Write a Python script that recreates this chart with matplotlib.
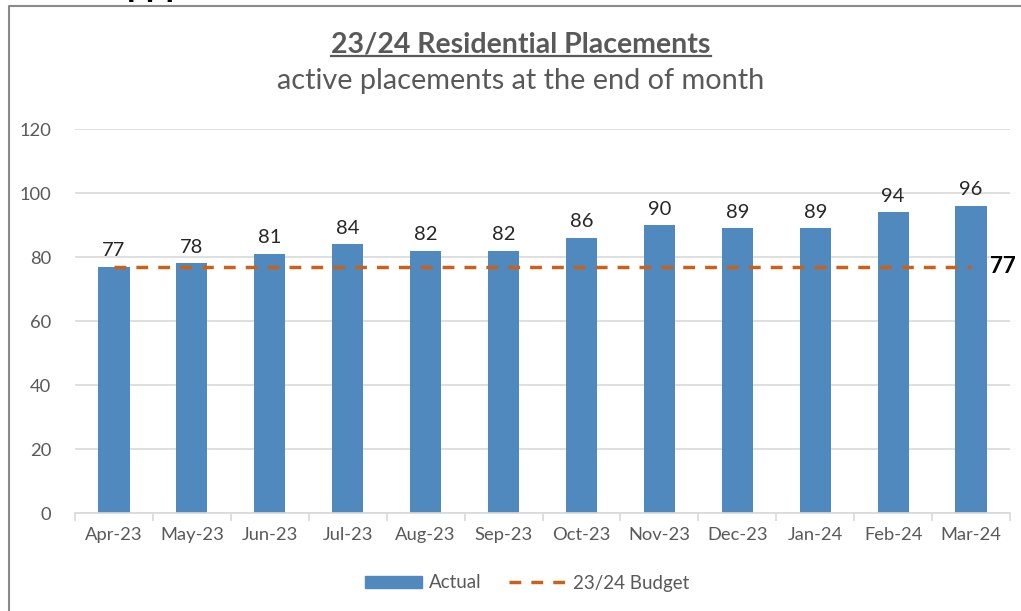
import numpy as np
import matplotlib.pyplot as plt
from matplotlib.lines import Line2D
from matplotlib.patches import Patch

plt.rcParams['font.family'] = ['Lato', 'DejaVu Sans']

months = ['Apr-23', 'May-23', 'Jun-23', 'Jul-23', 'Aug-23', 'Sep-23',
          'Oct-23', 'Nov-23', 'Dec-23', 'Jan-24', 'Feb-24', 'Mar-24']
actual = [77, 78, 81, 84, 82, 82, 86, 90, 89, 89, 94, 96]
budget = [77] * 12

bar_color = '#4F89BE'
budget_color = '#C9611A'
grey = '#595959'
dash = (0, (3.4, 2.9))

fig = plt.figure(figsize=(10.21, 6.11), dpi=100)
ax = fig.add_axes([75 / 1021, 98 / 611, 935 / 1021, 384 / 611])

x = np.arange(len(months))
ax.bar(x, actual, width=0.4, color=bar_color, zorder=2)
ax.plot(x, budget, color=budget_color, lw=2.5, ls=dash, zorder=3)

for xi, v in zip(x, actual):
    ax.text(xi, v + 2.3, str(v), ha='center', va='bottom', fontsize=14.5, color='#262626')
ax.text(x[-1] + 0.24, budget[-1], str(budget[-1]), ha='left', va='center',
        fontsize=16, fontweight='bold', color='black')

ax.set_xlim(-0.5, len(months) - 0.5)
ax.set_ylim(0, 120)
ax.set_yticks(np.arange(0, 121, 20))
ax.set_xticks(x)
ax.set_xticklabels(months)
ax.set_xticks(np.arange(-0.5, len(months), 1), minor=True)
ax.tick_params(axis='x', which='major', length=0, pad=10, labelsize=13.2, labelcolor=grey)
ax.tick_params(axis='x', which='minor', length=6, width=1.2, color='#d9d9d9')
ax.tick_params(axis='y', length=0, pad=17, labelsize=13.2, labelcolor=grey)
ax.grid(axis='y', color='#d9d9d9', lw=1.2, zorder=0)
for s in ['top', 'right', 'left']:
    ax.spines[s].set_visible(False)
ax.spines['bottom'].set_color('#d9d9d9')
ax.spines['bottom'].set_linewidth(1.2)

# titles
title = fig.text(521 / 1021, 1 - 45 / 611, '23/24 Residential Placements', ha='center', va='center',
                 fontsize=20.5, fontweight='bold', color=grey)
fig.text(521 / 1021, 1 - 81 / 611, 'active placements at the end of month', ha='center', va='center',
         fontsize=20.8, color=grey)

fig.canvas.draw()
bb = title.get_window_extent().transformed(fig.transFigure.inverted())
uy = bb.y0 + 2 / 611
fig.add_artist(Line2D([bb.x0, bb.x1], [uy, uy], color=grey, lw=1.6, transform=fig.transFigure))

# legend
handles = [Patch(color=bar_color), Line2D([], [], color=budget_color, lw=2.5, ls=dash)]
fig.legend(handles, ['Actual', '23/24 Budget'], loc='center', bbox_to_anchor=(527 / 1021, 1 - 583 / 611),
           ncol=2, frameon=False, fontsize=13.5, labelcolor=grey, handlelength=3.05, handleheight=0.55,
           columnspacing=1.45, handletextpad=0.37)

# frame of the chart area
fig.add_artist(Line2D([9 / 1021, 9 / 1021, 1], [0, 1 - 6 / 611, 1 - 6 / 611], color='#8a8a8a', lw=1.5,
                      transform=fig.transFigure))
# cropped text above the chart
fig.text(127 / 1021, 1 + 4.5 / 611, 'ppp', ha='left', va='baseline', fontsize=25, fontweight='bold', color='black')

fig.savefig('out.png', dpi=100)
